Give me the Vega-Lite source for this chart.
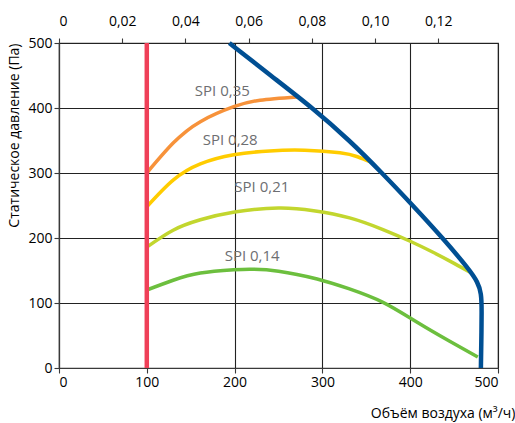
{
  "$schema": "https://vega.github.io/schema/vega-lite/v6.json",
  "width": 439,
  "height": 325,
  "autosize": {"type": "none"},
  "padding": {"left": 59, "top": 43, "right": 17, "bottom": 55},
  "config": {
    "font": "Open Sans",
    "view": {"stroke": "#3a3a3a", "strokeWidth": 1.2},
    "axis": {
      "labelFont": "Open Sans", "labelFontSize": 14, "labelColor": "#000",
      "titleFont": "Open Sans", "titleFontSize": 14, "titleFontWeight": "normal", "titleColor": "#000",
      "domainColor": "#3a3a3a", "tickColor": "#3a3a3a", "gridColor": "#222", "gridOpacity": 1,
      "tickSize": 5, "gridWidth": 1.1, "domainWidth": 1.2, "tickWidth": 1.1, "labelPadding": 2
    }
  },
  "datasets": {
    "spi": [
      {"s": "0,35", "i": 1, "x": 100, "y": 300}, {"s": "0,35", "i": 2, "x": 130, "y": 346}, {"s": "0,35", "i": 3, "x": 161, "y": 379}, {"s": "0,35", "i": 4, "x": 199, "y": 402}, {"s": "0,35", "i": 5, "x": 229, "y": 412}, {"s": "0,35", "i": 6, "x": 271, "y": 417},
      {"s": "0,28", "i": 1, "x": 100, "y": 248}, {"s": "0,28", "i": 2, "x": 130, "y": 289}, {"s": "0,28", "i": 3, "x": 161, "y": 314}, {"s": "0,28", "i": 4, "x": 199, "y": 328}, {"s": "0,28", "i": 5, "x": 240, "y": 334}, {"s": "0,28", "i": 6, "x": 280, "y": 335}, {"s": "0,28", "i": 7, "x": 320, "y": 331}, {"s": "0,28", "i": 8, "x": 340, "y": 325}, {"s": "0,28", "i": 9, "x": 355, "y": 317},
      {"s": "0,21", "i": 1, "x": 100, "y": 186}, {"s": "0,21", "i": 2, "x": 130, "y": 212}, {"s": "0,21", "i": 3, "x": 161, "y": 228}, {"s": "0,21", "i": 4, "x": 200, "y": 240}, {"s": "0,21", "i": 5, "x": 250, "y": 246}, {"s": "0,21", "i": 6, "x": 290, "y": 242}, {"s": "0,21", "i": 7, "x": 331, "y": 231}, {"s": "0,21", "i": 8, "x": 369, "y": 213}, {"s": "0,21", "i": 9, "x": 400, "y": 195}, {"s": "0,21", "i": 10, "x": 426, "y": 178}, {"s": "0,21", "i": 11, "x": 450, "y": 161}, {"s": "0,21", "i": 12, "x": 470, "y": 146},
      {"s": "0,14", "i": 1, "x": 100, "y": 120}, {"s": "0,14", "i": 2, "x": 130, "y": 135}, {"s": "0,14", "i": 3, "x": 161, "y": 146}, {"s": "0,14", "i": 4, "x": 199, "y": 151}, {"s": "0,14", "i": 5, "x": 218, "y": 152}, {"s": "0,14", "i": 6, "x": 250, "y": 149}, {"s": "0,14", "i": 7, "x": 294, "y": 137}, {"s": "0,14", "i": 8, "x": 330, "y": 122}, {"s": "0,14", "i": 9, "x": 369, "y": 101}, {"s": "0,14", "i": 10, "x": 407, "y": 71}, {"s": "0,14", "i": 11, "x": 445, "y": 41}, {"s": "0,14", "i": 12, "x": 477, "y": 17}
    ],
    "fan": [
      {"i": 1, "x": 194, "y": 500}, {"i": 2, "x": 241, "y": 450}, {"i": 3, "x": 289, "y": 400}, {"i": 4, "x": 331, "y": 350}, {"i": 5, "x": 368, "y": 300}, {"i": 6, "x": 403, "y": 250}, {"i": 7, "x": 437, "y": 200}, {"i": 8, "x": 467, "y": 152}, {"i": 9, "x": 477, "y": 132}, {"i": 10, "x": 481, "y": 115}, {"i": 11, "x": 481.5, "y": 90}, {"i": 12, "x": 481, "y": 40}, {"i": 13, "x": 480.5, "y": 0}
    ],
    "minflow": [{"i": 1, "x": 100, "y": 0}, {"i": 2, "x": 100, "y": 500}],
    "labels": [
      {"t": "SPI 0,35", "x": 186, "y": 426},
      {"t": "SPI 0,28", "x": 195, "y": 351},
      {"t": "SPI 0,21", "x": 231, "y": 278},
      {"t": "SPI 0,14", "x": 220, "y": 172}
    ],
    "top": [{"q": 0}, {"q": 0.138889}]
  },
  "layer": [
    {
      "layer": [
        {
          "data": {"name": "spi"},
          "mark": {"type": "line", "strokeWidth": 3.5, "interpolate": "natural"},
          "encoding": {
            "x": {"field": "x", "type": "quantitative", "scale": {"domain": [0, 500], "nice": false},
                  "axis": {"values": [0, 100, 200, 300, 400, 500], "grid": true, "title": "Объём воздуха (м³/ч)", "titleAnchor": "end", "titleAlign": "right", "titleX": 456, "titleY": 45, "titleBaseline": "middle"}},
            "y": {"field": "y", "type": "quantitative", "scale": {"domain": [0, 500], "nice": false},
                  "axis": {"values": [0, 100, 200, 300, 400, 500], "grid": true, "title": "Статическое давление (Па)", "titleAnchor": "end", "titlePadding": 6}},
            "color": {"field": "s", "type": "nominal", "legend": null,
                      "scale": {"domain": ["0,35", "0,28", "0,21", "0,14"], "range": ["#f7923a", "#ffcc00", "#c2d62e", "#6cbf3e"]}},
            "order": {"field": "i", "type": "quantitative"}
          }
        },
        {
          "data": {"name": "minflow"},
          "mark": {"type": "line", "strokeWidth": 4.5, "color": "#ef4058", "strokeCap": "butt"},
          "encoding": {
            "x": {"field": "x", "type": "quantitative"},
            "y": {"field": "y", "type": "quantitative"},
            "order": {"field": "i", "type": "quantitative"}
          }
        },
        {
          "data": {"name": "fan"},
          "mark": {"type": "line", "strokeWidth": 4.5, "color": "#004f93", "strokeCap": "butt", "interpolate": "basis"},
          "encoding": {
            "x": {"field": "x", "type": "quantitative"},
            "y": {"field": "y", "type": "quantitative"},
            "order": {"field": "i", "type": "quantitative"}
          }
        },
        {
          "data": {"name": "labels"},
          "mark": {"type": "text", "font": "Open Sans", "fontSize": 15, "color": "#6d6e71", "align": "center", "baseline": "middle"},
          "encoding": {
            "x": {"field": "x", "type": "quantitative"},
            "y": {"field": "y", "type": "quantitative"},
            "text": {"field": "t"}
          }
        }
      ]
    },
    {
      "data": {"name": "top"},
      "mark": {"type": "point", "opacity": 0},
      "encoding": {
        "x": {"field": "q", "type": "quantitative", "scale": {"domain": [0, 0.138889], "nice": false},
              "axis": {"orient": "top", "values": [0, 0.02, 0.04, 0.06, 0.08, 0.1, 0.12], "grid": false, "title": null, "domain": false, "labelPadding": 10,
                       "labelExpr": "datum.value == 0 ? '0' : replace(format(datum.value, '.2f'), '.', ',')"}}
      }
    }
  ],
  "resolve": {"scale": {"x": "independent"}, "axis": {"x": "independent"}}
}
